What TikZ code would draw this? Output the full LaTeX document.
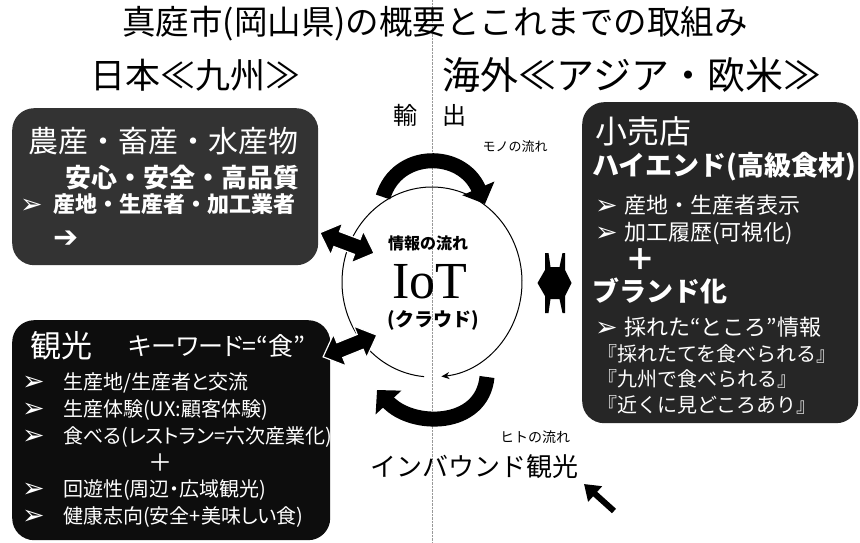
\documentclass[tikz,border=0pt]{standalone}
\usepackage{fontspec}
\setmainfont{Noto Sans CJK JP}
\newfontfamily\jpp{Noto Sans CJK JP}[RawFeature=+palt]
\newfontfamily\dejavu{DejaVu Sans}
\newfontfamily\iotfont{Liberation Serif}
\usetikzlibrary{arrows.meta}

\newcommand{\jfs}[1]{\fontsize{#1}{#1}\selectfont}
\newcommand{\itm}[2]{\makebox[#1][l]{\raisebox{-1pt}{\dejavu\bfseries\jfs{27}➢}}#2}

\begin{document}
\begin{tikzpicture}[x=1pt, y=-1pt,
    darkbox/.style={rounded corners=22pt, inner sep=0pt, anchor=north west},
    wtxt/.style={text=white, inner sep=0pt, anchor=west},
    btxt/.style={text=black, inner sep=0pt},
    flow/.style={line width=15pt, -{Triangle[width=34pt,length=17pt]}},
    link/.style={fill=black, draw=white, line width=1.2pt, line join=miter}]
    \useasboundingbox[fill=white] (0,0) rectangle (860,543);

    % Fold line
    \coordinate (foldtop) at (432,0);
    \coordinate (foldbot) at (432,543);
    \draw[densely dotted, black!40] (foldtop) -- (foldbot);

    % Headings
    \node[btxt, font=\jfs{33.5}] (title) at (435,24) {真庭市(岡山県)の概要とこれまでの取組み};
    \node[btxt, font=\jfs{35}] (japan) at (195,75) {日本≪九州≫};
    \node[btxt, font=\jfs{38}] (abroad) at (632,75) {海外≪アジア・欧米≫};

    % Boxes
    \node[darkbox, fill=black!80, minimum width=306pt, minimum height=157pt] (agri) at (12,108) {};
    \node[darkbox, fill=black!95, minimum width=318pt, minimum height=220pt] (tour) at (12,320) {};
    \node[darkbox, fill=black!85, minimum width=276pt, minimum height=321pt] (shop) at (582,102) {};

    % Upper left box
    \node[wtxt, font=\jfs{30}] (agri1) at (28,141) {農産・畜産・水産物};
    \node[wtxt, font=\jfs{26}\bfseries] (agri2) at (65,178) {安心・安全・高品質};
    \node[wtxt, font=\jfs{22}\bfseries] (agri3) at (20,204) {\itm{33pt}{産地・生産者・加工業者}};
    \node[wtxt, font=\jfs{30}\dejavu\bfseries] (agri4) at (53,239) {➔};

    % Lower left box
    \node[wtxt, font=\jfs{31}] (tour0) at (30,346) {観光};
    \node[wtxt, font=\jfs{25}\jpp] (tourkey) at (128,346) {キーワード=“食”};
    \node[wtxt, font=\jfs{20}\jpp] (tour1) at (22,383) {\itm{41pt}{生産地/生産者と交流}};
    \node[wtxt, font=\jfs{20}\jpp] (tour2) at (22,410) {\itm{41pt}{生産体験(UX:顧客体験)}};
    \node[wtxt, font=\jfs{20}\jpp] (tour3) at (22,437) {\itm{41pt}{食べる(レストラン=六次産業化)}};
    \node[wtxt, font=\jfs{24}] (tourplus) at (148,463) {＋};
    \node[wtxt, font=\jfs{20}\jpp] (tour4) at (22,490) {\itm{41pt}{回遊性(周辺・広域観光)}};
    \node[wtxt, font=\jfs{20}\jpp] (tour5) at (22,517) {\itm{41pt}{健康志向(安全+美味しい食)}};

    % Right box
    \node[wtxt, font=\jfs{32}] (shop1) at (595,131) {小売店};
    \node[wtxt, font=\jfs{27}\bfseries] (shop2) at (592,167) {ハイエンド(高級食材)};
    \node[wtxt, font=\jfs{22}] (shop3) at (595,205) {\itm{29pt}{産地・生産者表示}};
    \node[wtxt, font=\jfs{22}] (shop4) at (595,233) {\itm{29pt}{加工履歴(可視化)}};
    \node[wtxt, font=\jfs{30}\bfseries] (shopplus) at (625,260) {＋};
    \node[wtxt, font=\jfs{27}\bfseries] (shop5) at (592,291) {ブランド化};
    \node[wtxt, font=\jfs{22}] (shop6) at (595,327) {\itm{29pt}{採れた“ところ”情報}};
    \node[wtxt, font=\jfs{20}] (shop7) at (597,354) {『採れたてを食べられる』};
    \node[wtxt, font=\jfs{20}] (shop8) at (597,379) {『九州で食べられる』};
    \node[wtxt, font=\jfs{20}] (shop9) at (597,405) {『近くに見どころあり』};

    % Cloud circle
    \draw[line width=1pt, -{Stealth[length=8pt,width=7pt]}] (432,282) ++(95:90 and 95) arc[start angle=95, end angle=444, x radius=90, y radius=95];
    \node[btxt, font=\jfs{16}\bfseries] (info) at (428,243) {情報の流れ};
    \node[btxt, font=\jfs{52}\iotfont] (iot) at (430,282) {IoT};
    \node[btxt, font=\jfs{19}\bfseries] (cloud) at (433,320) {(クラウド)};

    % Export and inbound
    \node[btxt, font=\jfs{24}] (export) at (430,115) {輸\hspace{26pt}出};
    \node[btxt, font=\jfs{13}] (goods) at (515,147) {モノの流れ};
    \node[btxt, font=\jfs{14}] (people) at (535,437) {ヒトの流れ};
    \node[btxt, font=\jfs{26}] (inbound) at (474,467) {インバウンド観光};

    % Flow arrows
    \coordinate (top1) at (383,197);
    \coordinate (top2) at (485,204);
    \coordinate (bot1) at (487,377);
    \coordinate (bot2) at (377,390);
    \draw[flow] (top1) .. controls (397,150) and (462,150) .. (top2);
    \draw[flow] (bot1) .. controls (482,428) and (412,428) .. (bot2);

    % Links to the circle
    \begin{scope}[shift={(347,243)}, rotate=-20.7]
      \draw[link] (-29,0) -- (-11,-17) -- (-11,-8) -- (11,-8) -- (11,-17) -- (29,0)
        -- (11,17) -- (11,8) -- (-11,8) -- (-11,17) -- cycle;
    \end{scope}
    \begin{scope}[shift={(350,346)}, rotate=22]
      \draw[link] (-29,0) -- (-11,-17) -- (-11,-8) -- (11,-8) -- (11,-17) -- (29,0)
        -- (11,17) -- (11,8) -- (-11,8) -- (-11,17) -- cycle;
    \end{scope}
    \begin{scope}[shift={(554.5,283)}]
      \fill (-17,0) -- (-9.5,-13) -- (-9.5,-30) -- (-6,-30) -- (-4,-16) -- (5,-16) -- (8,-30)
        -- (10.5,-30) -- (10.5,-13) -- (17,0) -- (10.5,13) -- (10.5,30) -- (8,30) -- (5,16)
        -- (-4,16) -- (-6,30) -- (-9.5,30) -- (-9.5,13) -- cycle;
    \end{scope}

    % Inbound arrow
    \coordinate (in1) at (614,511);
    \coordinate (in2) at (584,484);
    \draw[line width=6pt, -{Triangle[width=20pt,length=15pt]}] (in1) -- (in2);
\end{tikzpicture}
\end{document}
